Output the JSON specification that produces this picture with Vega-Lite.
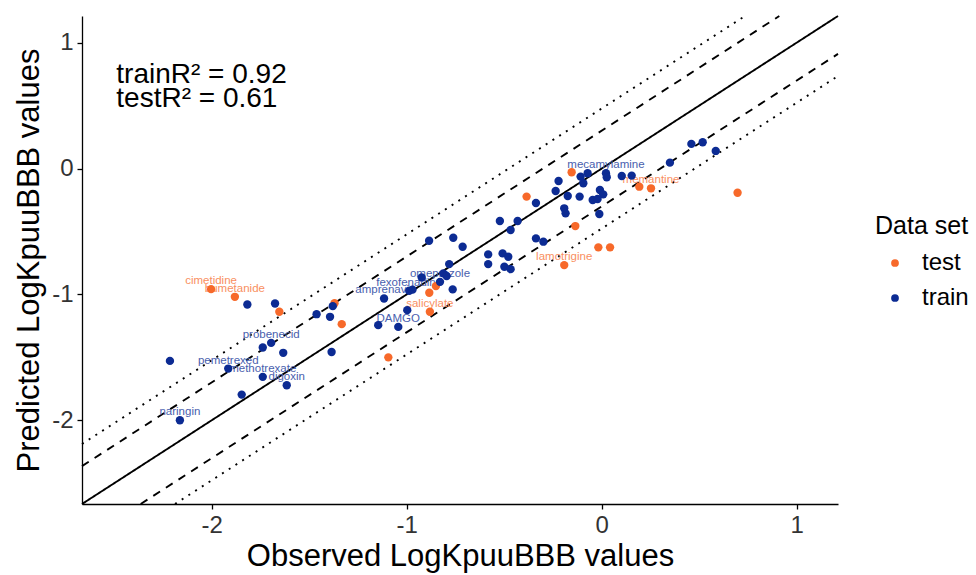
{
  "$schema": "https://vega.github.io/schema/vega-lite/v6.json",
  "width": 756,
  "height": 488,
  "autosize": {"type": "none"},
  "padding": {"left": 82, "top": 16, "right": 138, "bottom": 71},
  "background": "white",
  "config": {
    "view": {"stroke": null},
    "font": "Liberation Sans",
    "axis": {
      "grid": false,
      "domainColor": "black",
      "domainWidth": 1.3,
      "tickColor": "black",
      "tickWidth": 1.3,
      "tickSize": 5,
      "labelFont": "Liberation Sans",
      "labelFontSize": 24,
      "labelColor": "#333333",
      "labelPadding": 4,
      "titleFont": "Liberation Sans",
      "titleFontSize": 31,
      "titleFontWeight": "normal",
      "titleColor": "black"
    },
    "legend": {
      "titleFont": "Liberation Sans",
      "labelFont": "Liberation Sans"
    }
  },
  "resolve": {"scale": {"color": "independent"}, "legend": {"color": "independent"}},
  "datasets": {
    "points": [
      {"obs": -0.154, "pred": -0.029, "set": "test", "label": ""},
      {"obs": 0.193, "pred": -0.144, "set": "test", "label": ""},
      {"obs": 0.253, "pred": -0.157, "set": "test", "label": "memantine"},
      {"obs": 0.697, "pred": -0.192, "set": "test", "label": ""},
      {"obs": -0.385, "pred": -0.223, "set": "test", "label": ""},
      {"obs": -0.135, "pred": -0.457, "set": "test", "label": ""},
      {"obs": -0.017, "pred": -0.626, "set": "test", "label": ""},
      {"obs": 0.043, "pred": -0.626, "set": "test", "label": ""},
      {"obs": -0.192, "pred": -0.767, "set": "test", "label": "lamotrigine"},
      {"obs": -0.884, "pred": -0.987, "set": "test", "label": ""},
      {"obs": -0.850, "pred": -0.934, "set": "test", "label": ""},
      {"obs": -0.881, "pred": -1.138, "set": "test", "label": "salicylate"},
      {"obs": -1.333, "pred": -1.236, "set": "test", "label": ""},
      {"obs": -1.370, "pred": -1.070, "set": "test", "label": ""},
      {"obs": -1.094, "pred": -1.500, "set": "test", "label": ""},
      {"obs": -2.003, "pred": -0.958, "set": "test", "label": "cimetidine"},
      {"obs": -1.881, "pred": -1.019, "set": "test", "label": "bumetanide"},
      {"obs": -1.653, "pred": -1.138, "set": "test", "label": ""},
      {"obs": 0.460, "pred": 0.196, "set": "train", "label": ""},
      {"obs": 0.518, "pred": 0.209, "set": "train", "label": ""},
      {"obs": 0.585, "pred": 0.140, "set": "train", "label": ""},
      {"obs": 0.350, "pred": 0.047, "set": "train", "label": ""},
      {"obs": -0.108, "pred": -0.064, "set": "train", "label": ""},
      {"obs": -0.072, "pred": -0.037, "set": "train", "label": ""},
      {"obs": -0.094, "pred": -0.117, "set": "train", "label": ""},
      {"obs": 0.022, "pred": -0.037, "set": "train", "label": "mecamylamine"},
      {"obs": 0.026, "pred": -0.069, "set": "train", "label": ""},
      {"obs": 0.103, "pred": -0.059, "set": "train", "label": ""},
      {"obs": 0.154, "pred": -0.056, "set": "train", "label": ""},
      {"obs": -0.221, "pred": -0.099, "set": "train", "label": ""},
      {"obs": -0.236, "pred": -0.178, "set": "train", "label": ""},
      {"obs": -0.174, "pred": -0.218, "set": "train", "label": ""},
      {"obs": -0.113, "pred": -0.223, "set": "train", "label": ""},
      {"obs": -0.009, "pred": -0.170, "set": "train", "label": ""},
      {"obs": 0.008, "pred": -0.205, "set": "train", "label": ""},
      {"obs": -0.046, "pred": -0.250, "set": "train", "label": ""},
      {"obs": -0.021, "pred": -0.242, "set": "train", "label": ""},
      {"obs": -0.337, "pred": -0.274, "set": "train", "label": ""},
      {"obs": -0.192, "pred": -0.316, "set": "train", "label": ""},
      {"obs": -0.185, "pred": -0.356, "set": "train", "label": ""},
      {"obs": -0.012, "pred": -0.361, "set": "train", "label": ""},
      {"obs": -0.522, "pred": -0.417, "set": "train", "label": ""},
      {"obs": -0.431, "pred": -0.417, "set": "train", "label": ""},
      {"obs": -0.467, "pred": -0.488, "set": "train", "label": ""},
      {"obs": -0.337, "pred": -0.555, "set": "train", "label": ""},
      {"obs": -0.299, "pred": -0.581, "set": "train", "label": ""},
      {"obs": -0.713, "pred": -0.621, "set": "train", "label": ""},
      {"obs": -0.582, "pred": -0.682, "set": "train", "label": ""},
      {"obs": -0.582, "pred": -0.759, "set": "train", "label": ""},
      {"obs": -0.508, "pred": -0.674, "set": "train", "label": ""},
      {"obs": -0.479, "pred": -0.701, "set": "train", "label": ""},
      {"obs": -0.499, "pred": -0.780, "set": "train", "label": ""},
      {"obs": -0.467, "pred": -0.799, "set": "train", "label": ""},
      {"obs": -0.885, "pred": -0.574, "set": "train", "label": ""},
      {"obs": -0.761, "pred": -0.550, "set": "train", "label": ""},
      {"obs": -0.782, "pred": -0.759, "set": "train", "label": ""},
      {"obs": -0.923, "pred": -0.865, "set": "train", "label": ""},
      {"obs": -0.812, "pred": -0.833, "set": "train", "label": ""},
      {"obs": -0.795, "pred": -0.854, "set": "train", "label": ""},
      {"obs": -0.829, "pred": -0.900, "set": "train", "label": "omeprazole"},
      {"obs": -0.764, "pred": -0.960, "set": "train", "label": ""},
      {"obs": -0.987, "pred": -0.971, "set": "train", "label": "fexofenadine"},
      {"obs": -0.970, "pred": -0.962, "set": "train", "label": ""},
      {"obs": -1.116, "pred": -1.032, "set": "train", "label": "amprenavir"},
      {"obs": -0.997, "pred": -1.125, "set": "train", "label": ""},
      {"obs": -1.146, "pred": -1.244, "set": "train", "label": ""},
      {"obs": -1.043, "pred": -1.258, "set": "train", "label": "DAMGO"},
      {"obs": -1.393, "pred": -1.178, "set": "train", "label": ""},
      {"obs": -1.385, "pred": -1.457, "set": "train", "label": ""},
      {"obs": -1.817, "pred": -1.080, "set": "train", "label": ""},
      {"obs": -1.675, "pred": -1.072, "set": "train", "label": ""},
      {"obs": -1.462, "pred": -1.157, "set": "train", "label": ""},
      {"obs": -1.379, "pred": -1.093, "set": "train", "label": ""},
      {"obs": -1.738, "pred": -1.422, "set": "train", "label": ""},
      {"obs": -1.695, "pred": -1.385, "set": "train", "label": "probenecid"},
      {"obs": -1.633, "pred": -1.464, "set": "train", "label": ""},
      {"obs": -2.214, "pred": -1.528, "set": "train", "label": ""},
      {"obs": -1.915, "pred": -1.589, "set": "train", "label": "pemetrexed"},
      {"obs": -1.738, "pred": -1.655, "set": "train", "label": "methotrexate"},
      {"obs": -1.615, "pred": -1.722, "set": "train", "label": "digoxin"},
      {"obs": -1.846, "pred": -1.796, "set": "train", "label": ""},
      {"obs": -2.163, "pred": -2.000, "set": "train", "label": "naringin"}
    ],
    "lines": [
      {"id": "identity", "kind": "solid", "obs": -2.665, "pred": -2.665},
      {"id": "identity", "kind": "solid", "obs": 1.212, "pred": 1.212},
      {"id": "up2", "kind": "dashed", "obs": -2.665, "pred": -2.364},
      {"id": "up2", "kind": "dashed", "obs": 0.911, "pred": 1.212},
      {"id": "lo2", "kind": "dashed", "obs": -2.364, "pred": -2.665},
      {"id": "lo2", "kind": "dashed", "obs": 1.212, "pred": 0.911},
      {"id": "up3", "kind": "dotted", "obs": -2.665, "pred": -2.188},
      {"id": "up3", "kind": "dotted", "obs": 0.735, "pred": 1.212},
      {"id": "lo3", "kind": "dotted", "obs": -2.188, "pred": -2.665},
      {"id": "lo3", "kind": "dotted", "obs": 1.212, "pred": 0.735}
    ],
    "notes": [
      {"obs": -2.489, "pred": 0.681, "text": "trainR² = 0.92"},
      {"obs": -2.489, "pred": 0.490, "text": "testR² = 0.61"}
    ]
  },
  "encoding": {
    "x": {
      "field": "obs",
      "type": "quantitative",
      "scale": {"domain": [-2.665, 1.212], "nice": false, "zero": false},
      "axis": {"title": "Observed LogKpuuBBB values", "values": [-2, -1, 0, 1], "labelExpr": "'' + datum.value", "titlePadding": 4}
    },
    "y": {
      "field": "pred",
      "type": "quantitative",
      "scale": {"domain": [-2.665, 1.212], "nice": false, "zero": false},
      "axis": {"title": "Predicted LogKpuuBBB values", "values": [-2, -1, 0, 1], "labelExpr": "'' + datum.value", "titlePadding": 6}
    }
  },
  "layer": [
    {
      "data": {"name": "lines"},
      "mark": {"type": "line", "color": "black", "strokeWidth": 1.9, "strokeCap": "butt"},
      "encoding": {
        "detail": {"field": "id"},
        "strokeDash": {
          "field": "kind",
          "type": "nominal",
          "scale": {"domain": ["solid", "dashed", "dotted"], "range": [[1, 0], [8, 7], [2, 6]]},
          "legend": null
        }
      }
    },
    {
      "data": {"name": "points"},
      "transform": [{"filter": "datum.label != ''"}],
      "mark": {"type": "text", "fontSize": 11.5, "dy": -8, "baseline": "middle", "align": "center"},
      "encoding": {
        "text": {"field": "label"},
        "color": {"field": "set", "type": "nominal", "legend": null,
          "scale": {"domain": ["test", "train"], "range": ["#F98F5F", "#4960AE"]}}
      }
    },
    {
      "data": {"name": "points"},
      "mark": {"type": "circle", "size": 70, "opacity": 1},
      "encoding": {
        "color": {
          "field": "set",
          "type": "nominal",
          "scale": {"domain": ["test", "train"], "range": ["#F7692A", "#0C2B93"]},
          "legend": {
            "title": "Data set",
            "orient": "none",
            "legendX": 793,
            "legendY": 198,
            "titleFontSize": 25,
            "titleFontWeight": "normal",
            "titleColor": "black",
            "titlePadding": 12,
            "labelFontSize": 24,
            "labelColor": "black",
            "symbolType": "circle",
            "symbolSize": 60,
            "symbolOpacity": 1,
            "symbolOffset": 8,
            "labelOffset": 15,
            "rowPadding": 11
          }
        }
      }
    },
    {
      "data": {"name": "notes"},
      "mark": {"type": "text", "align": "left", "baseline": "alphabetic", "fontSize": 28, "color": "black"},
      "encoding": {"text": {"field": "text"}}
    }
  ]
}
